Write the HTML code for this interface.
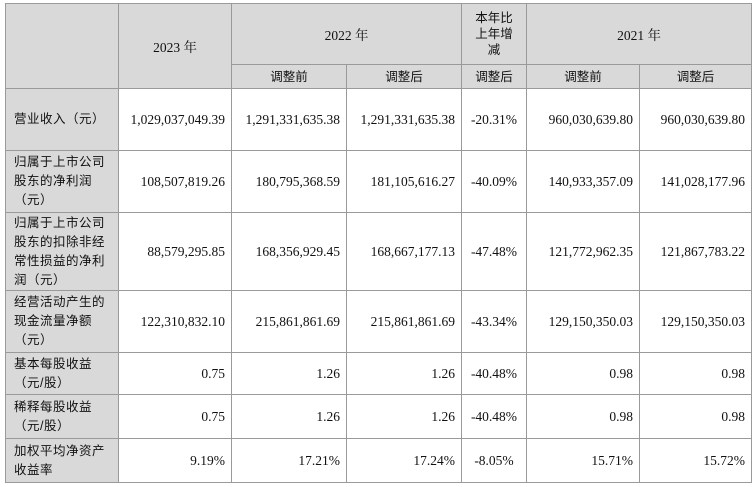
<!DOCTYPE html>
<html><head><meta charset="utf-8"><style>
body{margin:0;width:755px;height:487px;background:#fff;overflow:hidden}
table{position:absolute;left:5px;top:3px;border-collapse:collapse;table-layout:fixed;font-family:"Liberation Serif","Noto Serif CJK SC",serif;font-size:13.5px;color:#111}
td{border:1px solid #9a9a9a;padding:0 6px;text-align:right;white-space:nowrap}
.h{background:#d9d9d9;text-align:center}
.l{background:#d9d9d9;text-align:left;font-family:"Liberation Sans","Noto Sans CJK SC",sans-serif;font-size:12.5px;line-height:19px;white-space:nowrap;padding:0 4px 0 8px;letter-spacing:0.5px}
.c{text-align:center}
.hs{font-family:"Liberation Sans","Noto Sans CJK SC",sans-serif;font-size:12.5px;line-height:16px}
</style></head><body>
<table>
<colgroup><col style="width:113px"><col style="width:113px"><col style="width:115px"><col style="width:115px"><col style="width:65px"><col style="width:113px"><col style="width:112px"></colgroup>
<tr style="height:61px">
<td class="h" rowspan="2"></td>
<td class="h" rowspan="2">2023 年</td>
<td class="h" colspan="2">2022 年</td>
<td class="h hs">本年比<br>上年增<br>减</td>
<td class="h" colspan="2">2021 年</td>
</tr>
<tr style="height:24px">
<td class="h hs">调整前</td>
<td class="h hs">调整后</td>
<td class="h hs">调整后</td>
<td class="h hs">调整前</td>
<td class="h hs">调整后</td>
</tr>
<tr style="height:62px"><td class="l">营业收入（元）</td><td>1,029,037,049.39</td><td>1,291,331,635.38</td><td>1,291,331,635.38</td><td class="c">-20.31%</td><td>960,030,639.80</td><td>960,030,639.80</td></tr>
<tr style="height:62px"><td class="l">归属于上市公司<br>股东的净利润<br>（元）</td><td>108,507,819.26</td><td>180,795,368.59</td><td>181,105,616.27</td><td class="c">-40.09%</td><td>140,933,357.09</td><td>141,028,177.96</td></tr>
<tr style="height:78px"><td class="l">归属于上市公司<br>股东的扣除非经<br>常性损益的净利<br>润（元）</td><td>88,579,295.85</td><td>168,356,929.45</td><td>168,667,177.13</td><td class="c">-47.48%</td><td>121,772,962.35</td><td>121,867,783.22</td></tr>
<tr style="height:62px"><td class="l">经营活动产生的<br>现金流量净额<br>（元）</td><td>122,310,832.10</td><td>215,861,861.69</td><td>215,861,861.69</td><td class="c">-43.34%</td><td>129,150,350.03</td><td>129,150,350.03</td></tr>
<tr style="height:42px"><td class="l">基本每股收益<br>（元/股）</td><td>0.75</td><td>1.26</td><td>1.26</td><td class="c">-40.48%</td><td>0.98</td><td>0.98</td></tr>
<tr style="height:44px"><td class="l">稀释每股收益<br>（元/股）</td><td>0.75</td><td>1.26</td><td>1.26</td><td class="c">-40.48%</td><td>0.98</td><td>0.98</td></tr>
<tr style="height:44px"><td class="l">加权平均净资产<br>收益率</td><td>9.19%</td><td>17.21%</td><td>17.24%</td><td class="c">-8.05%</td><td>15.71%</td><td>15.72%</td></tr>
</table>
</body></html>
